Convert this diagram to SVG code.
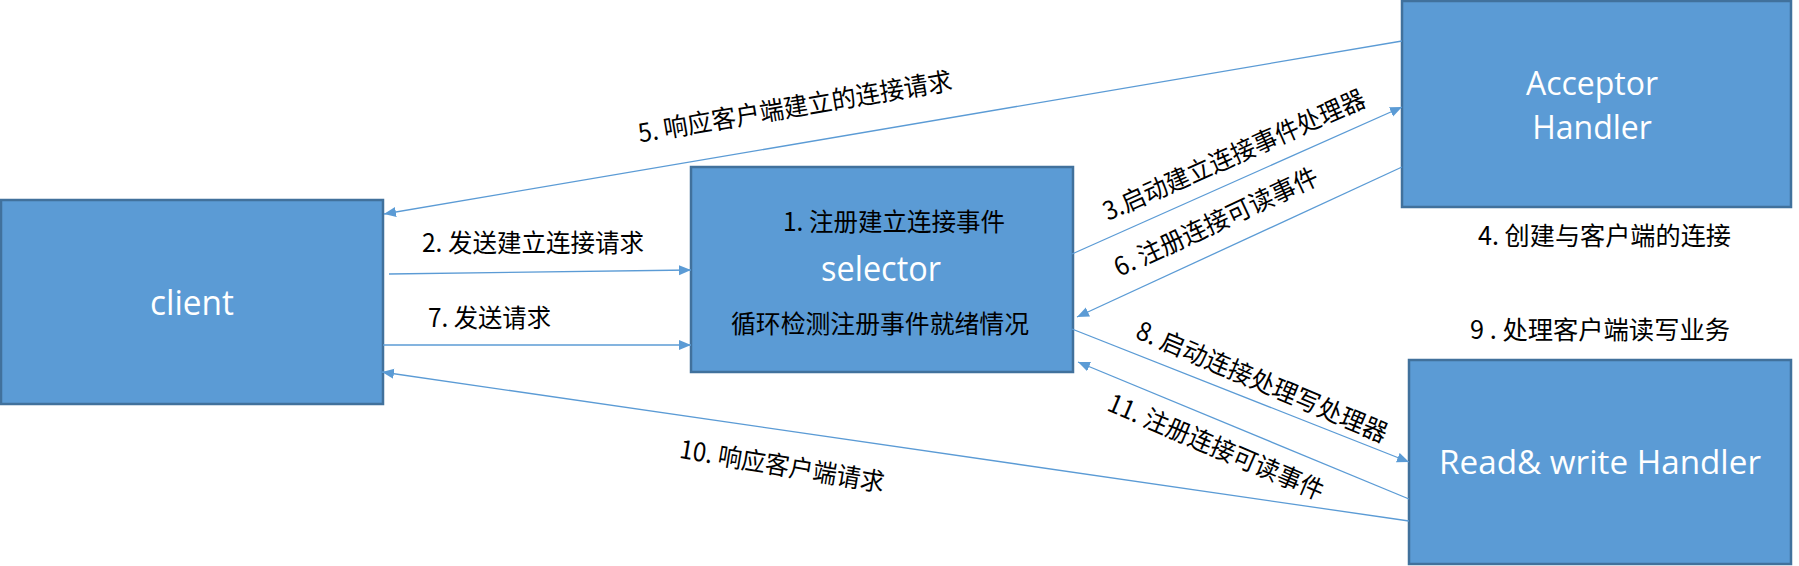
<svg xmlns="http://www.w3.org/2000/svg" width="1799" height="566" viewBox="0 0 1799 566">
<style>
.box{fill:#5b9bd5;stroke:#41719c;stroke-width:2.5}
.w{fill:#ffffff;font-family:"Open Sans","Liberation Sans",sans-serif;font-size:32px;text-anchor:middle}
.b{font-size:34px}
.t{fill:#000000;font-family:"Noto Sans CJK SC","Liberation Sans",sans-serif;font-size:25.5px}
.m{text-anchor:middle}
.c{fill:none;stroke:#5b9bd5;stroke-width:1.3}
</style>
<defs>
<marker id="ah" markerUnits="userSpaceOnUse" markerWidth="13" markerHeight="11" refX="12" refY="5" orient="auto">
<path d="M0,0 L12,5 L0,10 z" fill="#5b9bd5"/>
</marker>
</defs>
<rect width="1799" height="566" fill="#ffffff"/>
<g id="client">
<rect class="box" x="1" y="200" width="382" height="204"/>
<text class="w b" x="192" y="315" textLength="84" lengthAdjust="spacingAndGlyphs">client</text>
</g>
<g id="selector">
<rect class="box" x="691" y="167" width="382" height="205"/>
<text class="t" x="783" y="231" textLength="222" lengthAdjust="spacingAndGlyphs">1. 注册建立连接事件</text>
<text class="w b" x="881" y="281" textLength="120" lengthAdjust="spacingAndGlyphs">selector</text>
<text class="t" x="731" y="333" textLength="298" lengthAdjust="spacingAndGlyphs">循环检测注册事件就绪情况</text>
</g>
<g id="acceptor">
<rect class="box" x="1402" y="1" width="389" height="206"/>
<text class="w" x="1592" y="95">Acceptor</text>
<text class="w" x="1592" y="139">Handler</text>
</g>
<g id="rwhandler">
<rect class="box" x="1409" y="360" width="382" height="204"/>
<text class="w" x="1600" y="474" textLength="322" lengthAdjust="spacingAndGlyphs">Read&amp; write Handler</text>
</g>
<g id="connectors">
<path class="c" d="M1402,41 L384,214" marker-end="url(#ah)"/>
<path class="c" d="M389,274 L691,270" marker-end="url(#ah)"/>
<path class="c" d="M383,345 L691,345" marker-end="url(#ah)"/>
<path class="c" d="M1072,254 L1402,107" marker-end="url(#ah)"/>
<path class="c" d="M1402,167 L1077,317" marker-end="url(#ah)"/>
<path class="c" d="M1072,329 L1409,462" marker-end="url(#ah)"/>
<path class="c" d="M1409,499 L1078,362" marker-end="url(#ah)"/>
<path class="c" d="M1409,521 L382,372" marker-end="url(#ah)"/>
</g>
<g id="labels">
<text class="t" x="422" y="252" textLength="222" lengthAdjust="spacingAndGlyphs">2. 发送建立连接请求</text>
<text class="t" x="428" y="327" textLength="123" lengthAdjust="spacingAndGlyphs">7. 发送请求</text>
<text class="t" x="1478" y="245" textLength="253" lengthAdjust="spacingAndGlyphs">4. 创建与客户端的连接</text>
<text class="t" x="1470" y="339" textLength="260" lengthAdjust="spacingAndGlyphs">9 . 处理客户端读写业务</text>
<text class="t m" transform="translate(795,107) rotate(-9.6)" x="0" y="9" textLength="318" lengthAdjust="spacingAndGlyphs">5. 响应客户端建立的连接请求</text>
<text class="t m" transform="translate(1234,155) rotate(-24)" x="0" y="9" textLength="284" lengthAdjust="spacingAndGlyphs">3.启动建立连接事件处理器</text>
<text class="t m" transform="translate(1216,222) rotate(-25)" x="0" y="9" textLength="222" lengthAdjust="spacingAndGlyphs">6. 注册连接可读事件</text>
<text class="t m" transform="translate(1262,382) rotate(23)" x="0" y="9" textLength="270" lengthAdjust="spacingAndGlyphs">8. 启动连接处理写处理器</text>
<text class="t m" transform="translate(1216,447) rotate(23)" x="0" y="9" textLength="232" lengthAdjust="spacingAndGlyphs">11. 注册连接可读事件</text>
<text class="t m" transform="translate(782,466) rotate(9.5)" x="0" y="9" textLength="207" lengthAdjust="spacingAndGlyphs">10. 响应客户端请求</text>
</g>
</svg>
